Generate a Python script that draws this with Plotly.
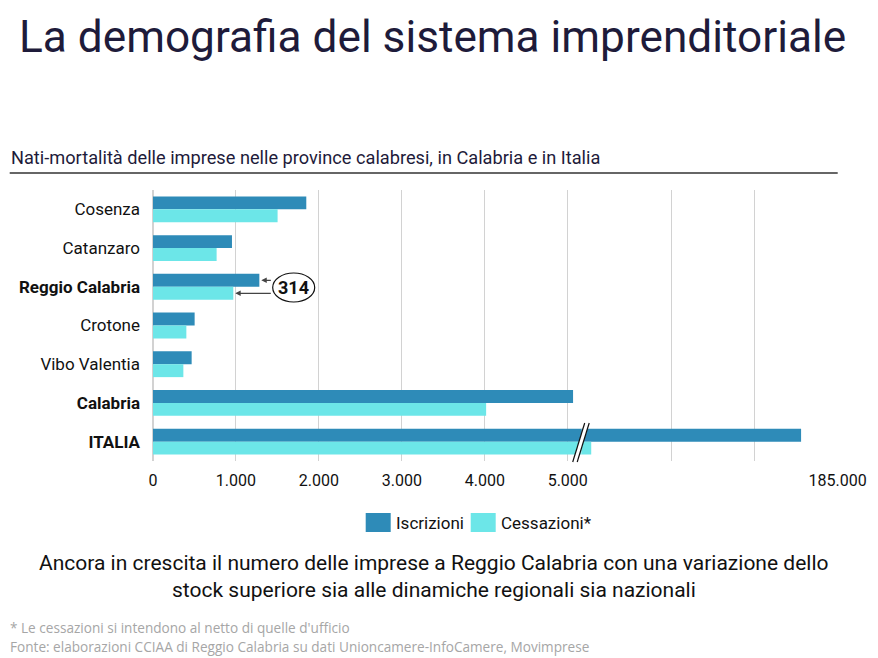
import plotly.graph_objects as go

# ---------------- data ----------------
categories = ["Cosenza", "Catanzaro", "Reggio Calabria", "Crotone",
              "Vibo Valentia", "Calabria", "ITALIA"]
iscrizioni = [1848, 952, 1282, 502, 466, 5064, 184560]
cessazioni = [1502, 767, 968, 402, 366, 4016, 182030]
series_names = ["Iscrizioni", "Cessazioni*"]
left_ticks = [0, 1000, 2000, 3000, 4000, 5000]
right_ticks = [183000, 184000, 185000]
right_tick_labels = ["", "", "185.000"]
highlight = {"Reggio Calabria", "Calabria", "ITALIA"}
diff_label = "314"

# ---------------- style ----------------
C_ISC = "#2E8BB8"
C_CES = "#6CE6E8"
GRID = "#D2D2D2"
W, H = 878, 658
L, R, T, B = 153.3, 838.3, 190, 461
PW, PH = R - L, B - T

LEFT_MAX = 5165
RIGHT_MIN, RIGHT_MAX = 181912, 185005
split = LEFT_MAX / (LEFT_MAX + (RIGHT_MAX - RIGHT_MIN))


def px(x):
    return (x - L) / PW


def py(y):
    return (B - y) / PH


def fmt(v):
    return f"{v:,}".replace(",", ".")


fig = go.Figure()
for xa in ["x", "x2"]:
    fig.add_trace(go.Bar(y=categories, x=iscrizioni, orientation="h", name=series_names[0],
                         marker=dict(color=C_ISC, line=dict(width=0)), xaxis=xa, yaxis="y",
                         showlegend=False, hoverinfo="x+y"))
    fig.add_trace(go.Bar(y=categories, x=cessazioni, orientation="h", name=series_names[1],
                         marker=dict(color=C_CES, line=dict(width=0)), xaxis=xa, yaxis="y",
                         showlegend=False, hoverinfo="x+y"))

xtickfont = dict(family="Roboto", size=16, color="#111111")
ytickfont = dict(family="Roboto", size=17, color="#111111")

fig.update_layout(
    width=W, height=H,
    margin=dict(l=L, r=W - R, t=T, b=H - B, pad=0),
    paper_bgcolor="white", plot_bgcolor="white",
    barmode="group", bargap=0.333, bargroupgap=0,
    xaxis=dict(domain=[0, split], range=[0, LEFT_MAX], tickvals=left_ticks,
               ticktext=[fmt(v) for v in left_ticks], showgrid=True, gridcolor=GRID,
               gridwidth=1.3, zeroline=True, zerolinecolor=GRID, zerolinewidth=2,
               showline=False, ticks="", tickfont=xtickfont, anchor="y", ticklabelstandoff=8),
    xaxis2=dict(domain=[split, 1], range=[RIGHT_MIN, RIGHT_MAX], tickvals=right_ticks,
                ticktext=right_tick_labels, showgrid=True, gridcolor=GRID, gridwidth=1.3,
                zeroline=False, showline=False, ticks="", tickfont=xtickfont, anchor="y",
                ticklabelstandoff=8),
    yaxis=dict(type="category", autorange="reversed", tickvals=categories,
               ticktext=[f"<b>{c}</b>" if c in highlight else c for c in categories],
               showgrid=False, zeroline=False, showline=False, ticks="",
               tickfont=ytickfont, ticklabelstandoff=12),
    font=dict(family="Roboto", color="#111111"),
)

shapes = []
annotations = []

# title
annotations.append(dict(xref="paper", yref="paper", x=px(17), y=py(37), xanchor="left", yanchor="middle",
                        text="La demografia del sistema imprenditoriale", showarrow=False,
                        font=dict(family="Roboto", size=44.2, color="#1E1B3A")))
# subtitle + rule
annotations.append(dict(xref="paper", yref="paper", x=px(9), y=py(157), xanchor="left", yanchor="middle",
                        text="Nati-mortalità delle imprese nelle province calabresi, in Calabria e in Italia",
                        showarrow=False,
                        font=dict(family="Roboto", size=18.2, color="#1E1B3A")))
shapes.append(dict(type="line", xref="paper", yref="paper", x0=px(10), x1=px(838), y0=py(173), y1=py(173),
                   line=dict(color="#333333", width=1.5)))

# axis break marker
shapes.append(dict(type="path", xref="paper", yref="paper",
                   path=f"M {px(585)} {py(423)} L {px(589.5)} {py(423)} L {px(577.5)} {py(462)} L {px(573)} {py(462)} Z",
                   fillcolor="white", line=dict(width=0)))
for (xa, xb) in [(585, 573), (589.5, 577.5)]:
    shapes.append(dict(type="line", xref="paper", yref="paper", x0=px(xa), y0=py(423), x1=px(xb), y1=py(462),
                       line=dict(color="#111111", width=1.2)))

# 314 ellipse + arrows
shapes.append(dict(type="circle", xref="paper", yref="paper", x0=px(273), x1=px(315), y0=py(273), y1=py(302),
                   line=dict(color="#111111", width=1.2), fillcolor="white"))
annotations.append(dict(xref="paper", yref="paper", x=px(294), y=py(287.5), xanchor="center", yanchor="middle",
                        text=f"<b>{diff_label}</b>",
                        showarrow=False, font=dict(family="Roboto", size=18, color="#111111")))
ri = categories.index("Reggio Calabria")
annotations.append(dict(xref="x", yref="y", x=iscrizioni[ri], y=categories[ri], yshift=6.5, text="",
                        showarrow=True, arrowhead=2, arrowsize=0.9, arrowwidth=1.2, arrowcolor="#444444",
                        ax=13, ay=0, standoff=2))
annotations.append(dict(xref="x", yref="y", x=cessazioni[ri], y=categories[ri], yshift=-6.5, text="",
                        showarrow=True, arrowhead=2, arrowsize=0.9, arrowwidth=1.2, arrowcolor="#444444",
                        ax=39, ay=0, standoff=2))

# manual legend
for (x0, x1, tx, col, name) in [(366, 391, 394, C_ISC, series_names[0]),
                                 (471, 496, 499, C_CES, series_names[1])]:
    shapes.append(dict(type="rect", xref="paper", yref="paper", x0=px(x0), x1=px(x1), y0=py(513), y1=py(532),
                       fillcolor=col, line=dict(width=0)))
    annotations.append(dict(xref="paper", yref="paper", x=px(tx), y=py(523), xanchor="left", yanchor="middle",
                            text=name, showarrow=False, font=dict(family="Roboto", size=17, color="#111111")))

# caption
for (yy, line) in [(563, "Ancora in crescita il numero delle imprese a Reggio Calabria con una variazione dello"),
                   (590, "stock superiore sia alle dinamiche regionali sia nazionali")]:
    annotations.append(dict(xref="paper", yref="paper", x=px(434), y=py(yy), xanchor="center", yanchor="middle",
                            text=line, showarrow=False, font=dict(family="Roboto", size=21, color="#111111")))

# footnotes
for (yy, line) in [(627, "* Le cessazioni si intendono al netto di quelle d'ufficio"),
                   (646, "Fonte: elaborazioni CCIAA di Reggio Calabria su dati Unioncamere-InfoCamere, Movimprese")]:
    annotations.append(dict(xref="paper", yref="paper", x=px(8), y=py(yy), xanchor="left", yanchor="middle",
                            text=line, showarrow=False, font=dict(family="Open Sans", size=13.6, color="#A6A6A6")))

fig.update_layout(shapes=shapes, annotations=annotations)
fig.write_html("out.html", config={"displayModeBar": False},
               post_script="document.body.style.margin='0';document.body.style.padding='0';")
